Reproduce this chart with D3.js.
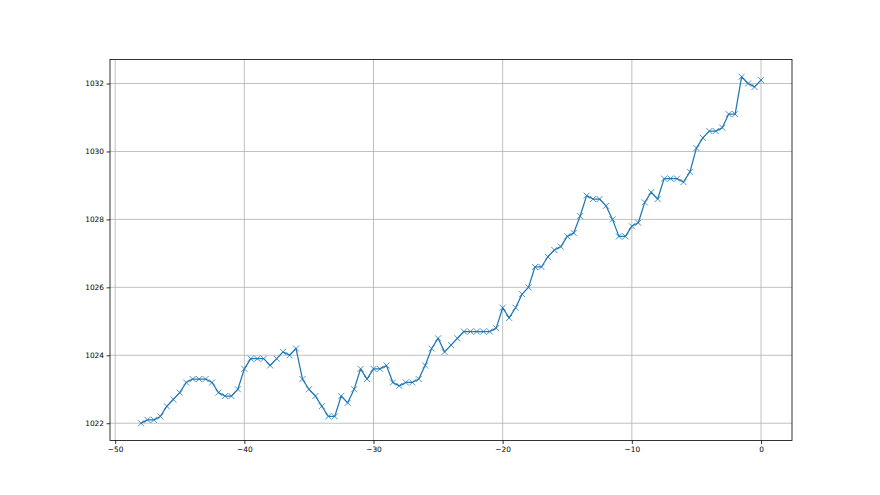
<!DOCTYPE html>
<html>
<head>
<meta charset="utf-8">
<script src="https://cdn.jsdelivr.net/npm/d3@7"></script>
<style>
html,body{margin:0;padding:0;background:#fff;}
svg{display:block;}
text{font-family:"DejaVu Sans",sans-serif;fill:#000;}
</style>
</head>
<body>
<svg id="chart" width="880" height="495"></svg>
<script>
const xValues = [-48,-47.5,-47,-46.5,-46,-45.5,-45,-44.5,-44,-43.5,-43,-42.5,-42,-41.5,-41,-40.5,
  -40,-39.5,-39,-38.5,-38,-37.5,-37,-36.5,-36,-35.5,-35,-34.5,-34,-33.5,-33,-32.5,
  -32,-31.5,-31,-30.5,-30,-29.5,-29,-28.5,-28,-27.5,-27,-26.5,-26,-25.5,-25,-24.5,
  -24,-23.5,-23,-22.5,-22,-21.5,-21,-20.5,-20,-19.5,-19,-18.5,-18,-17.5,-17,-16.5,
  -16,-15.5,-15,-14.5,-14,-13.5,-13,-12.5,-12,-11.5,-11,-10.5,-10,-9.5,-9,-8.5,
  -8,-7.5,-7,-6.5,-6,-5.5,-5,-4.5,-4,-3.5,-3,-2.5,-2,-1.5,-1,-0.5,0];
const pressure = [1022.0,1022.1,1022.1,1022.2,1022.5,1022.7,1022.9,1023.2,1023.3,1023.3,1023.3,1023.2,1022.9,1022.8,1022.8,1023.0,
  1023.6,1023.9,1023.9,1023.9,1023.7,1023.9,1024.1,1024.0,1024.2,1023.3,1023.0,1022.8,1022.5,1022.2,1022.2,1022.8,
  1022.6,1023.0,1023.6,1023.3,1023.6,1023.6,1023.7,1023.2,1023.1,1023.2,1023.2,1023.3,1023.7,1024.2,1024.5,1024.1,
  1024.3,1024.5,1024.7,1024.7,1024.7,1024.7,1024.7,1024.8,1025.4,1025.1,1025.4,1025.8,1026.0,1026.6,1026.6,1026.9,
  1027.1,1027.2,1027.5,1027.6,1028.1,1028.7,1028.6,1028.6,1028.4,1028.0,1027.5,1027.5,1027.8,1027.9,1028.5,1028.8,
  1028.6,1029.2,1029.2,1029.2,1029.1,1029.4,1030.1,1030.4,1030.6,1030.6,1030.7,1031.1,1031.1,1032.2,1032.0,1031.9,1032.1];
const xTicks = [-50,-40,-30,-20,-10,0];
const yTicks = [1022,1024,1026,1028,1030,1032];

const svg = d3.select("#chart");
const L = 110, R = 792, T = 59.4, B = 440.55;
const color = "#1f77b4";

const xMin = d3.min(xValues), xMax = d3.max(xValues);
const yMin = d3.min(pressure), yMax = d3.max(pressure);
const xPad = (xMax - xMin) * 0.05, yPad = (yMax - yMin) * 0.05;
const x = d3.scaleLinear().domain([xMin - xPad, xMax + xPad]).range([L, R]);
const y = d3.scaleLinear().domain([yMin - yPad, yMax + yPad]).range([B, T]);

const fmt = d => String(d).replace("-", "\u2212");

// grid
const grid = svg.append("g");
grid.selectAll("line.gx").data(xTicks).enter().append("line")
  .attr("x1", d => x(d)).attr("x2", d => x(d)).attr("y1", T).attr("y2", B)
  .attr("stroke", "#b0b0b0").attr("stroke-width", 0.8);
grid.selectAll("line.gy").data(yTicks).enter().append("line")
  .attr("x1", L).attr("x2", R).attr("y1", d => y(d)).attr("y2", d => y(d))
  .attr("stroke", "#b0b0b0").attr("stroke-width", 0.8);

// axes
const xAxis = d3.axisBottom(x).tickValues(xTicks).tickSize(3.5).tickPadding(3).tickFormat(fmt);
const yAxis = d3.axisLeft(y).tickValues(yTicks).tickSize(3.5).tickPadding(2.5).tickFormat(d => d);
const gx = svg.append("g").attr("transform", `translate(0,${B})`).call(xAxis);
const gy = svg.append("g").attr("transform", `translate(${L},0)`).call(yAxis);
[gx, gy].forEach(g => {
  g.select(".domain").remove();
  g.selectAll(".tick line").attr("stroke", "#000").attr("stroke-width", 0.8);
  g.selectAll(".tick text").style("font-family", "DejaVu Sans").style("font-size", "7.4px").attr("fill", "#000");
});

// data line
const pts = xValues.map((v, i) => [v, pressure[i]]);
svg.append("path").datum(pts)
  .attr("fill", "none").attr("stroke", color).attr("stroke-width", 1.25)
  .attr("stroke-linejoin", "round").attr("stroke-linecap", "square")
  .attr("d", d3.line().x(d => x(d[0])).y(d => y(d[1])));

// x markers
const s = 3;
svg.append("g").selectAll("path").data(pts).enter().append("path")
  .attr("d", d => {
    const cx = x(d[0]), cy = y(d[1]);
    return `M${cx - s},${cy - s}L${cx + s},${cy + s}M${cx - s},${cy + s}L${cx + s},${cy - s}`;
  })
  .attr("stroke", color).attr("stroke-width", 0.8).attr("fill", "none");

// spines
svg.append("rect").attr("x", L).attr("y", T).attr("width", R - L).attr("height", B - T)
  .attr("fill", "none").attr("stroke", "#000").attr("stroke-width", 0.8);
</script>
</body>
</html>
